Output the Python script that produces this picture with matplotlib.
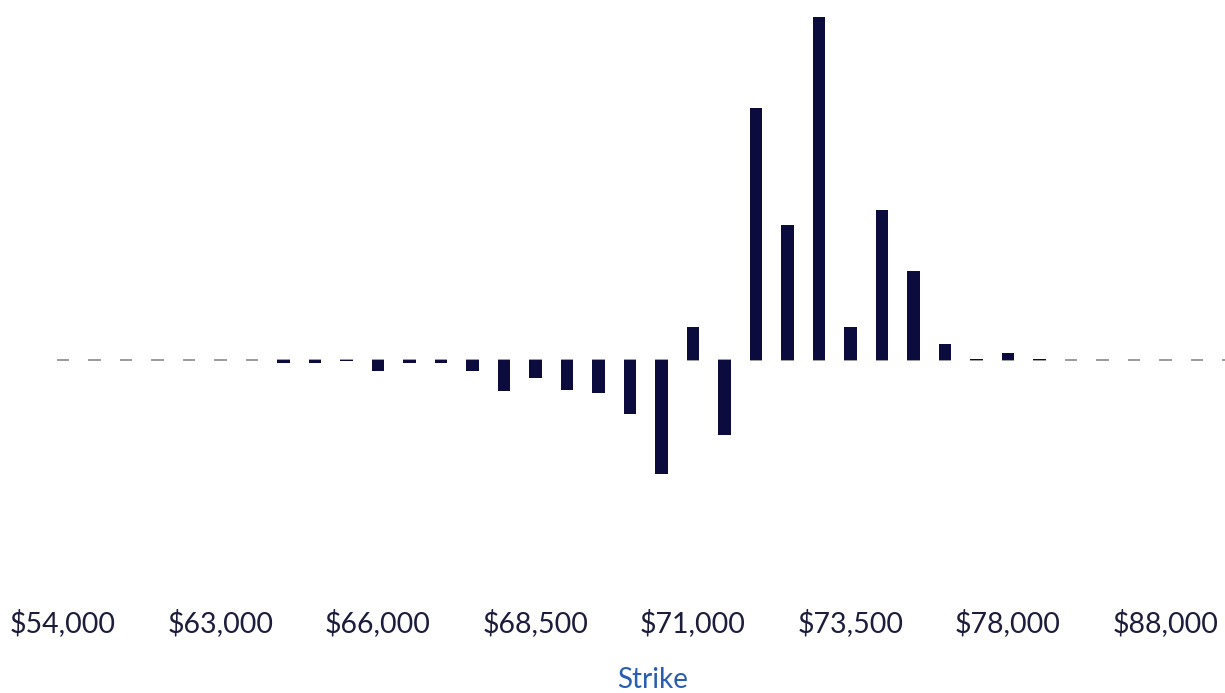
import matplotlib
matplotlib.use("Agg")
import matplotlib.pyplot as plt
import numpy as np

plt.rcParams['font.family'] = ['Lato', 'DejaVu Sans']

strikes = [54000, 56000, 58000, 60000, 62000, 63000, 64000, 64500, 65000, 65500,
           66000, 66500, 67000, 67500, 68000, 68500, 69000, 69500, 70000, 70500,
           71000, 71500, 72000, 72500, 73000, 73500, 74000, 75000, 76000, 77000,
           78000, 80000, 82000, 84000, 86000, 88000, 90000, 95000]
values = [0, 0, 0, 0, 0, 0, 0, -0.3, -0.3, -0.1,
          -1.1, -0.3, -0.25, -1.1, -3.1, -1.8, -3.0, -3.3, -5.4, -11.4,
          3.3, -7.5, 25.2, 13.5, 34.3, 3.3, 15.0, 8.9, 1.6, 0.15,
          0.75, 0.15, 0, 0, 0, 0, 0, 0]
label_every = 5
x_title = "Strike"

bar_color = "#0b0c3d"
fig = plt.figure(figsize=(12.25, 6.93), dpi=100)
ax = fig.add_axes([0, (693 - 540) / 693, 1, 540 / 693])

x = np.arange(len(strikes))
w = 0.41
ax.hlines(np.zeros(len(x)), x - w / 2, x + w / 2, colors="#939393", linewidth=1.3, zorder=1)
ax.bar(x, values, width=w, color=bar_color, zorder=2)

ax.set_xlim(-2, 36.889)
ax.set_ylim(-18, 36)
for s in ax.spines.values():
    s.set_visible(False)
ax.set_yticks([])
ticks = x[::label_every]
ax.set_xticks(ticks)
ax.set_xticklabels([f"${strikes[i]:,}" for i in ticks], fontsize=20.5, color="#1c1c3c")
ax.tick_params(axis="x", length=0, pad=50)
ax.set_xlabel(x_title, fontsize=20, color="#2a5db0")
ax.xaxis.set_label_coords(653 / 1225, (540 - 667) / 540)

fig.savefig("out.png", dpi=100)
